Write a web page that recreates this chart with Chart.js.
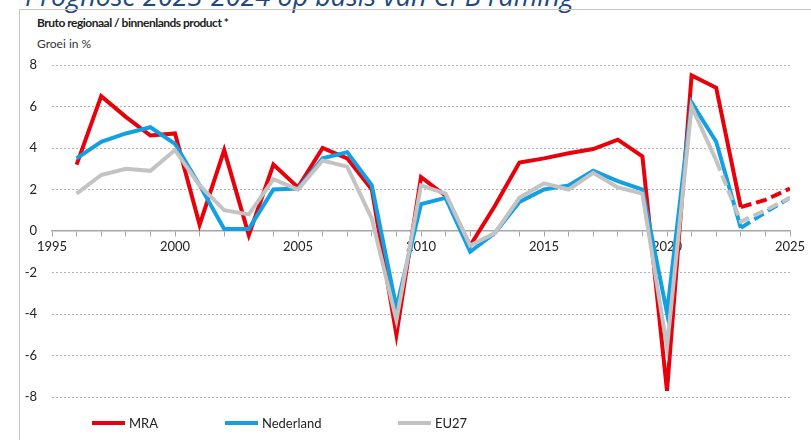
<!DOCTYPE html>
<html>
<head>
<meta charset="utf-8">
<script src="https://cdn.jsdelivr.net/npm/chart.js@4.4.1/dist/chart.umd.min.js"></script>
<style>
  body { margin: 0; background: #fff; width: 811px; height: 440px; overflow: hidden; position: relative; font-family: Lato, "Open Sans", sans-serif; }
  #kop { position: absolute; left: 25px; top: -23px; font-family: "Open Sans", sans-serif; font-style: italic; font-size: 27px; color: #1f497d; white-space: nowrap; }
  #kader { position: absolute; left: 19px; top: 9px; width: 900px; height: 500px; border: 1px solid #c6c6c6; box-sizing: border-box; }
  #titel { position: absolute; left: 37px; top: 15px; font-size: 12px; font-weight: bold; color: #222; letter-spacing: -0.5px; }
  #sub { position: absolute; left: 37px; top: 36px; font-size: 12px; color: #333; }
  #wrap { position: absolute; left: 20px; top: 10px; width: 791px; height: 430px; }
  .leg { position: absolute; top: 415px; font-size: 13px; color: #222; display: flex; align-items: center; }
  .leg i { display: inline-block; width: 33px; height: 4px; margin-right: 4px; }
</style>
</head>
<body>
<div id="kop">Prognose 2023-2024 op basis van CPB raming</div>
<div id="kader"></div>
<div id="titel">Bruto regionaal / binnenlands product *</div>
<div id="sub">Groei in %</div>
<div id="wrap"><canvas id="grafiek" width="791" height="430"></canvas></div>
<div id="legenda"></div>
<script>
const jaren = [1996, 1997, 1998, 1999, 2000, 2001, 2002, 2003, 2004, 2005, 2006, 2007, 2008, 2009, 2010,
  2011, 2012, 2013, 2014, 2015, 2016, 2017, 2018, 2019, 2020, 2021, 2022, 2023, 2024, 2025]
const mra = [3.2, 6.5, 5.5, 4.6, 4.7, 0.3, 3.9, -0.2, 3.2, 2.1, 4.0, 3.5, 2.0, -5.0, 2.6,
  1.7, -0.7, 1.2, 3.3, 3.5, 3.75, 3.95, 4.4, 3.6, -7.7, 7.5, 6.9, 1.15, 1.5, 2.05]
const nederland = [3.5, 4.3, 4.7, 5.0, 4.2, 2.2, 0.1, 0.1, 2.0, 2.05, 3.5, 3.8, 2.2, -3.7, 1.3,
  1.6, -1.0, -0.1, 1.4, 2.0, 2.2, 2.9, 2.4, 2.0, -3.95, 6.2, 4.3, 0.15, 0.9, 1.6]
const eu27 = [1.8, 2.7, 3.0, 2.9, 3.9, 2.2, 1.0, 0.8, 2.5, 2.0, 3.4, 3.1, 0.6, -4.3, 2.2,
  1.8, -0.7, -0.1, 1.6, 2.3, 2.0, 2.8, 2.1, 1.8, -5.6, 6.0, 3.4, 0.45, 1.0, 1.6]
const reeksen = ['MRA', 'Nederland', 'EU27']
const kleuren = ['#e8000a', '#12a0e2', '#c3c3c3']
// vanaf welk jaar de lijn gestippeld is (prognose)
const prognoseVanaf = [2023, 2023, 2022]
const legendaX = [92, 225, 398]

function punten(waarden) {
  return jaren.map((j, i) => ({ x: j, y: waarden[i] }))
}

function stippel(vanaf) {
  return ctx => jaren[ctx.p0DataIndex] >= vanaf ? [11, 5] : undefined
}

const datasets = [mra, nederland, eu27].map((w, i) => ({
  label: reeksen[i],
  data: punten(w),
  borderColor: kleuren[i],
  borderWidth: 4,
  pointRadius: 0,
  tension: 0,
  order: 2 - i,
  segment: { borderDash: stippel(prognoseVanaf[i]) }
}))

new Chart(document.getElementById('grafiek'), {
  type: 'line',
  data: { datasets: datasets },
  options: {
    responsive: false,
    animation: false,
    devicePixelRatio: 1,
    layout: { padding: { top: 55, right: 21, bottom: 43, left: 0 } },
    plugins: { legend: { display: false }, tooltip: { enabled: false } },
    scales: {
      x: {
        type: 'linear',
        min: 1995,
        max: 2025,
        position: { y: 0 },
        grid: { drawOnChartArea: false, drawTicks: true, tickLength: 5, color: '#a6a6a6' },
        border: { color: '#a6a6a6', width: 1.5 },
        ticks: {
          stepSize: 1,
          autoSkip: false,
          maxRotation: 0,
          padding: 3,
          color: '#222',
          font: { family: 'Lato', size: 13 },
          callback: v => v % 5 === 0 ? String(v) : ''
        }
      },
      y: {
        min: -8,
        max: 8,
        afterFit: s => { s.width = 32 },
        grid: {
          drawTicks: false,
          color: c => c.tick.value === 0 ? 'rgba(0,0,0,0)' : '#b4b4b4',
          lineWidth: 1
        },
        border: { display: false, dash: [2, 2] },
        ticks: { stepSize: 2, padding: 15, color: '#222', font: { family: 'Lato', size: 13 } }
      }
    }
  }
})

const leg = document.getElementById('legenda')
reeksen.forEach((naam, i) => {
  const d = document.createElement('div')
  d.className = 'leg'
  d.style.left = legendaX[i] + 'px'
  d.innerHTML = '<i style="background:' + kleuren[i] + '"></i>' + naam
  leg.appendChild(d)
})
</script>
</body>
</html>
